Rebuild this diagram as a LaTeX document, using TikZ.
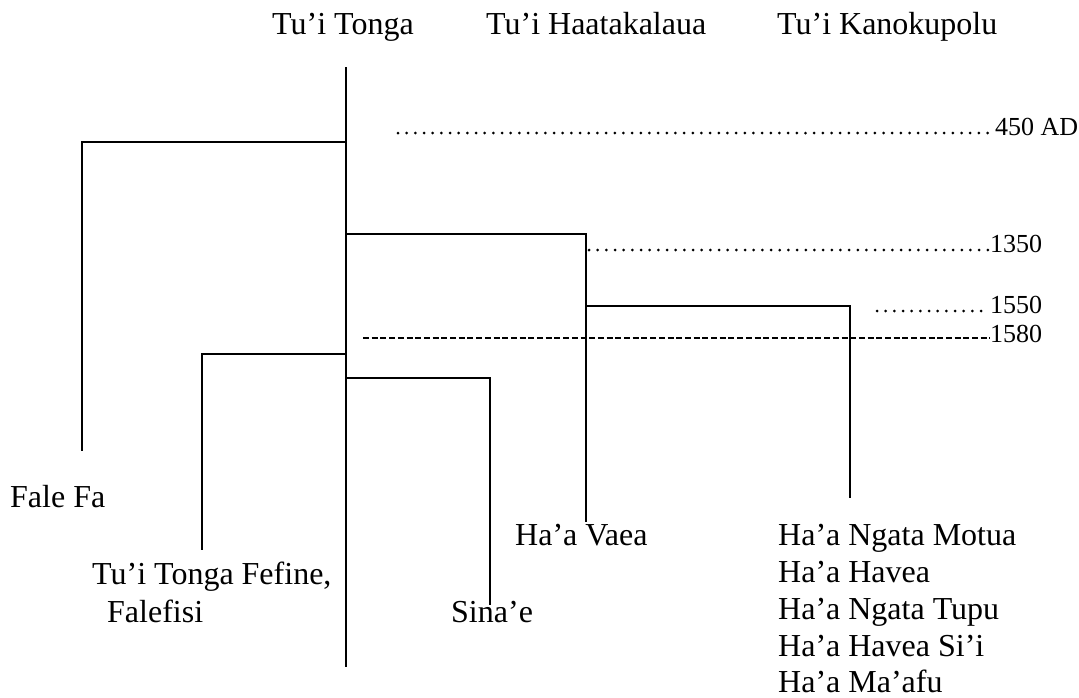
\documentclass[tikz,border=0pt]{standalone}
\usepackage{fontspec}
\setmainfont{Liberation Serif}
\begin{document}
\begin{tikzpicture}[x=1pt,y=-1pt,
  lbl/.style={anchor=base west,inner sep=0pt,font=\fontsize{32}{37}\selectfont},
  datelbl/.style={anchor=base west,inner sep=0pt,font=\fontsize{26}{30}\selectfont},
  tree/.style={line width=2.2pt},
  dotline/.style={line width=3pt,line cap=round,dash pattern=on 0pt off 8.67pt},
  dashline/.style={line width=1.7pt,dash pattern=on 6pt off 2.7pt}]
\useasboundingbox (0,0) rectangle (1079,697);
% headings
\node[lbl] (tt) at (272,34) {Tu’i Tonga};
\node[lbl] (th) at (486,34) {Tu’i Haatakalaua};
\node[lbl] (tk) at (777,34) {Tu’i Kanokupolu};
% dates
\node[datelbl] (d450) at (995,135) {450 AD};
\node[datelbl] (d1350) at (990,252) {1350};
\node[datelbl] (d1550) at (990,313) {1550};
\node[datelbl] (d1580) at (990,342) {1580};
% leaves
\node[lbl] (ff) at (10,507) {Fale Fa};
\node[lbl] (vaea) at (515,545) {Ha’a Vaea};
\node[lbl] (fef1) at (92,584) {Tu’i Tonga Fefine,};
\node[lbl] (fef2) at (107,622) {Falefisi};
\node[lbl] (sina) at (451,622) {Sina’e};
\node[lbl] (k1) at (778,545) {Ha’a Ngata Motua};
\node[lbl] (k2) at (778,582) {Ha’a Havea};
\node[lbl] (k3) at (778,619) {Ha’a Ngata Tupu};
\node[lbl] (k4) at (778,656) {Ha’a Havea Si’i};
\node[lbl] (k5) at (778,692) {Ha’a Ma’afu};
% tree coordinates
\coordinate (top) at (346,67);
\coordinate (bot) at (346,667);
\coordinate (ffJ) at (346,142);
\coordinate (ffE) at (82,451);
\coordinate (haJ) at (346,234);
\coordinate (vaE) at (586,522);
\coordinate (kpJ) at (586,306);
\coordinate (kpE) at (850,498);
\coordinate (feJ) at (346,354);
\coordinate (feE) at (202,550);
\coordinate (siJ) at (346,378);
\coordinate (siE) at (490,605);
\draw[tree] (top) -- (bot);
\draw[tree] (ffJ) -| (ffE);
\draw[tree] (haJ) -| (vaE);
\draw[tree] (kpJ) -| (kpE);
\draw[tree] (feJ) -| (feE);
\draw[tree] (siJ) -| (siE);
% time lines
\coordinate (l450s) at (398,133);
\coordinate (l450e) at (996,133);
\coordinate (l1350s) at (589,250);
\coordinate (l1350e) at (988,250);
\coordinate (l1550s) at (877,311);
\coordinate (l1550e) at (986,311);
\coordinate (l1580s) at (363,338);
\coordinate (l1580e) at (990,338);
\draw[dotline] (l450s) -- (l450e);
\draw[dotline] (l1350s) -- (l1350e);
\draw[dotline] (l1550s) -- (l1550e);
\draw[dashline] (l1580s) -- (l1580e);
\end{tikzpicture}
\end{document}
